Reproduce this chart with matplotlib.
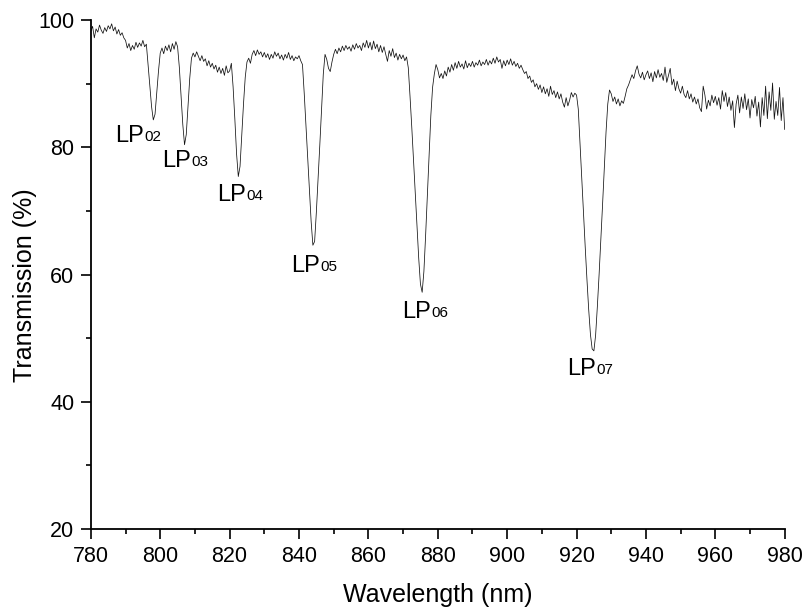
import numpy as np
import matplotlib
matplotlib.use('Agg')
import matplotlib.pyplot as plt

plt.rcParams['font.family'] = ['Liberation Sans', 'DejaVu Sans']

# transmission spectrum, sampled every 0.5 nm from 780 to 980 nm
transmission = [
    98.3, 99.0, 97.2, 98.6, 98.1, 99.2, 98.4, 97.9, 98.8, 98.2,   # 780
    99.1, 98.6, 99.4, 98.3, 98.9, 97.8, 98.5, 97.6, 98.0, 97.2,   # 785
    96.8, 95.6, 96.3, 95.2, 96.0, 95.4, 96.5, 95.7, 96.4, 95.9,   # 790
    96.8, 95.8, 96.2, 93.0, 89.6, 86.4, 84.3, 85.2, 88.6, 92.0,   # 795
    94.8, 95.6, 94.7, 95.9, 95.2, 96.1, 95.0, 96.3, 95.4, 96.6,   # 800
    95.8, 92.6, 88.0, 83.6, 80.4, 82.0, 86.5, 90.8, 94.0, 94.8,   # 805
    94.2, 95.0, 94.3, 93.6, 94.4, 93.5, 93.9, 92.8, 93.6, 92.6,   # 810
    93.2, 92.3, 92.9, 91.8, 92.6, 91.6, 92.4, 91.3, 92.8, 91.7,   # 815
    92.0, 93.2, 89.5, 84.5, 79.0, 75.4, 77.0, 81.8, 86.8, 91.0,   # 820
    93.4, 94.0, 93.2, 94.6, 95.2, 94.4, 95.3, 94.6, 95.0, 94.2,   # 825
    94.9, 94.1, 94.7, 93.8, 94.6, 94.0, 95.0, 94.3, 94.8, 93.9,   # 830
    94.5, 93.7, 94.6, 94.0, 94.9, 93.8, 94.4, 93.6, 94.2, 93.9,   # 835
    94.4, 93.6, 93.0, 88.5, 83.5, 78.4, 73.2, 68.3, 64.6, 65.2,   # 840
    69.8, 75.0, 80.4, 86.0, 91.5, 94.6, 93.8, 92.4, 91.9, 93.4,   # 845
    94.6, 95.4, 94.7, 95.6, 95.0, 95.9, 95.2, 96.0, 95.4, 95.8,   # 850
    95.1, 96.1, 95.4, 96.3, 95.6, 96.0, 95.2, 96.4, 95.7, 96.8,   # 855
    95.6, 96.5, 95.3, 96.7, 95.5, 96.2, 95.0, 96.0, 94.9, 95.8,   # 860
    94.6, 93.5, 95.2, 94.3, 95.5, 94.1, 94.8, 93.7, 94.6, 93.9,   # 865
    94.5, 93.6, 94.2, 92.5, 88.0, 83.2, 78.0, 72.8, 67.5, 62.6,   # 870
    58.5, 57.2, 60.5, 66.2, 72.5, 78.8, 85.0, 89.4, 91.5, 93.0,   # 875
    92.2, 90.9, 91.6, 90.8, 92.0, 91.2, 92.6, 91.8, 93.0, 92.1,   # 880
    93.3, 92.4, 93.5, 92.6, 93.1, 92.3, 93.6, 92.5, 93.2, 92.7,   # 885
    93.5, 92.6, 93.3, 92.9, 93.7, 92.8, 93.4, 93.0, 93.8, 92.9,   # 890
    93.6, 93.1, 94.0, 93.2, 94.2, 93.4, 93.8, 92.4, 93.6, 92.8,   # 895
    93.7, 93.0, 93.9, 92.9, 93.5, 92.7, 93.2, 92.4, 92.9, 92.2,   # 900
    91.6, 91.9, 90.8, 91.2, 90.2, 90.6, 89.5, 90.0, 89.1, 89.8,   # 905
    88.6, 89.5, 88.4, 89.2, 88.0, 89.6, 88.3, 88.9, 87.8, 88.7,   # 910
    87.6, 88.4, 87.1, 86.3, 87.8, 86.5, 87.4, 88.6, 87.9, 88.5,   # 915
    88.2, 86.0, 80.5, 75.0, 69.6, 64.3, 59.2, 54.5, 50.6, 48.3,   # 920
    48.0, 50.5, 55.0, 60.0, 65.4, 71.0, 76.8, 82.4, 86.8, 89.0,   # 925
    88.4, 87.2, 87.9, 86.8, 87.6, 86.5, 87.3, 86.9, 88.0, 89.2,   # 930
    89.8, 90.6, 91.4, 90.8, 92.0, 92.8, 91.5, 90.9, 91.8, 90.6,   # 935
    91.4, 92.0, 90.8, 91.7, 90.3, 91.9, 90.9, 92.2, 91.0, 91.6,   # 940
    90.5, 92.6, 90.2, 91.3, 92.4, 89.8, 90.7, 88.9, 90.4, 89.2,   # 945
    88.5, 89.6, 88.3, 87.8, 88.9, 87.6, 88.4, 87.1, 87.9, 86.8,   # 950
    87.6, 86.2, 85.6, 89.6, 88.2, 86.0, 87.4, 86.5, 88.2, 87.0,   # 955
    88.0, 86.6, 87.8, 86.0, 88.9, 87.2, 88.6, 86.4, 87.9, 85.8,   # 960
    87.3, 83.1, 86.8, 88.2, 85.4, 87.9, 86.1, 88.4, 85.9, 87.6,   # 965
    84.6, 87.5, 86.2, 88.0, 84.9, 87.1, 83.2, 87.8, 85.0, 89.6,   # 970
    84.5, 88.7, 85.8, 90.1, 84.4, 87.2, 85.0, 89.4, 84.2, 87.8,   # 975
    82.8,                                                         # 980
]
wavelength = np.linspace(780, 980, len(transmission))

# mode labels: name, subscript, anchor wavelength, baseline transmission
mode_names = ['LP', 'LP', 'LP', 'LP', 'LP', 'LP']
mode_subs = ['02', '03', '04', '05', '06', '07']
label_x = [795.3, 808.9, 824.6, 846.1, 877.9, 925.5]
label_y = [80.9, 76.9, 71.6, 60.4, 53.2, 44.2]

fig = plt.figure(figsize=(8.04, 6.12), dpi=100)
ax = fig.add_axes([0.113, 0.1356, 0.863, 0.8317])

ax.plot(wavelength, transmission, color='#111111', lw=0.55)

for name, sub, x, y in zip(mode_names, mode_subs, label_x, label_y):
    ax.text(x, y, name, fontsize=17, ha='right', va='baseline')
    ax.text(x + 0.2, y + 0.15, sub, fontsize=11, ha='left', va='baseline')

ax.set_xlim(780, 980)
ax.set_ylim(20, 100)
ax.set_xticks(np.arange(780, 981, 20))
ax.set_xticks(np.arange(790, 980, 20), minor=True)
ax.set_yticks(np.arange(20, 101, 20))
ax.set_yticks(np.arange(30, 100, 20), minor=True)

ax.spines['top'].set_visible(False)
ax.spines['right'].set_visible(False)
ax.spines['left'].set_linewidth(1.3)
ax.spines['bottom'].set_linewidth(1.3)
ax.tick_params(which='major', direction='out', length=7, width=1.2,
               labelsize=15.5, pad=5)
ax.tick_params(which='minor', direction='out', length=3.8, width=1.2)

ax.set_xlabel('Wavelength (nm)', fontsize=18, labelpad=12)
ax.set_ylabel('Transmission (%)', fontsize=18)
ax.yaxis.set_label_coords(-0.077, 0.48)

plt.savefig('out.png', dpi=100)
